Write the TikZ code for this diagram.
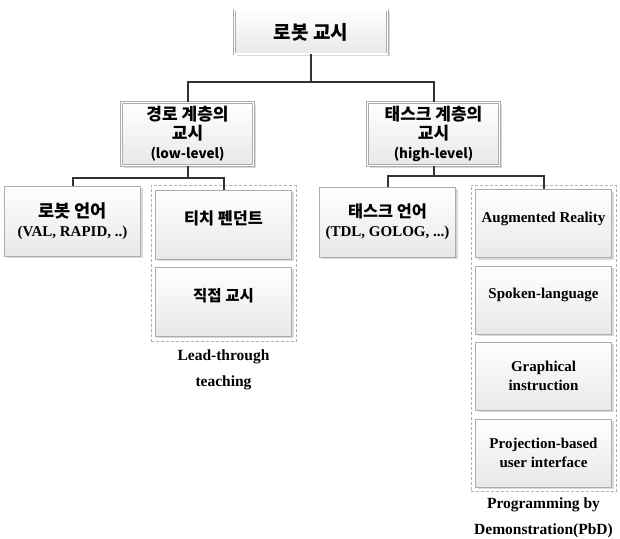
\documentclass[tikz,border=0pt]{standalone}
\usepackage{fontspec}
\setmainfont{Liberation Serif}
\newfontfamily\kr{Noto Sans CJK KR}
\usetikzlibrary{positioning,fit,shadows}

\begin{document}
\begin{tikzpicture}[x=1pt, y=-1pt,
        node distance=8pt,
        box/.style={draw=gray!65, rectangle, top color=white, bottom color=gray!18, align=center, minimum width=136pt, minimum height=68pt, drop shadow={shadow xshift=2pt, shadow yshift=-2pt, opacity=0.3}, font=\bfseries\fontsize{15}{19}\selectfont},
        headbox/.style={box, double=white, double distance=1.5pt, minimum width=132pt, minimum height=63pt, font=\kr\bfseries\fontsize{17}{19}\selectfont},
        oneline/.style={text depth=13pt},
        group/.style={draw=gray!60, dash pattern=on 3pt off 2pt, inner sep=4.5pt},
        grplabel/.style={inner sep=0pt, align=center, font=\bfseries\fontsize{15.5}{26}\selectfont},
        conn/.style={draw=black!80, line width=2pt}
    ]
        \useasboundingbox (0,0) rectangle (620,538);

        \node[headbox, minimum width=153pt, minimum height=44pt, font=\kr\bfseries\fontsize{19}{22}\selectfont] (root) at (311,32) {로봇 교시};
        \node[headbox] (lowlvl) at (187.5,134) {경로 계층의\\교시\\{\fontsize{13.5}{19}\selectfont (low-level)}};
        \node[headbox] (highlvl) at (433.5,134) {태스크 계층의\\교시\\{\fontsize{13.5}{19}\selectfont (high-level)}};

        \node[box, minimum height=70pt] (robotlang) at (72.5,221) {{\kr\fontsize{17.5}{19}\selectfont 로봇 언어}\\(VAL, RAPID, ..)};
        \node[box, oneline, minimum height=69pt, font=\kr\bfseries\fontsize{16.3}{19}\selectfont] (teach) at (223.5,224.5) {티치 펜던트};
        \node[box, oneline, minimum height=69pt, font=\kr\bfseries\fontsize{15.5}{19}\selectfont, below=of teach] (direct) {직접 교시};
        \node[group, fit=(teach)(direct)] (leadgrp) {};
        \node[grplabel, below=8pt of leadgrp] (leadlbl) {Lead-through\\teaching};

        \node[box, minimum height=70pt] (tasklang) at (387.5,222) {{\kr\fontsize{16.3}{19}\selectfont 태스크 언어}\\(TDL, GOLOG, ...)};
        \node[box, oneline] (ar) at (543.5,223.5) {Augmented Reality};
        \node[box, oneline, below=of ar] (spoken) {Spoken-language};
        \node[box, below=of spoken] (graph) {Graphical\\instruction};
        \node[box, below=of graph] (proj) {Projection-based\\user interface};
        \node[group, fit=(ar)(proj)] (pbdgrp) {};
        \node[grplabel, below=6pt of pbdgrp] (pbdlbl) {Programming by\\Demonstration(PbD)};

        \draw[conn] (root.south) -- ++(0,28) -| (lowlvl.north);
        \draw[conn] (root.south) -- ++(0,28) -| (highlvl.north);
        \draw[conn] (lowlvl.south) -- ++(0,12) -| (robotlang.north);
        \draw[conn] (lowlvl.south) -- ++(0,12) -| (teach.north);
        \draw[conn] (highlvl.south) -- ++(0,10) -| (tasklang.north);
        \draw[conn] (highlvl.south) -- ++(0,10) -| (ar.north);
    \end{tikzpicture}
\end{document}
